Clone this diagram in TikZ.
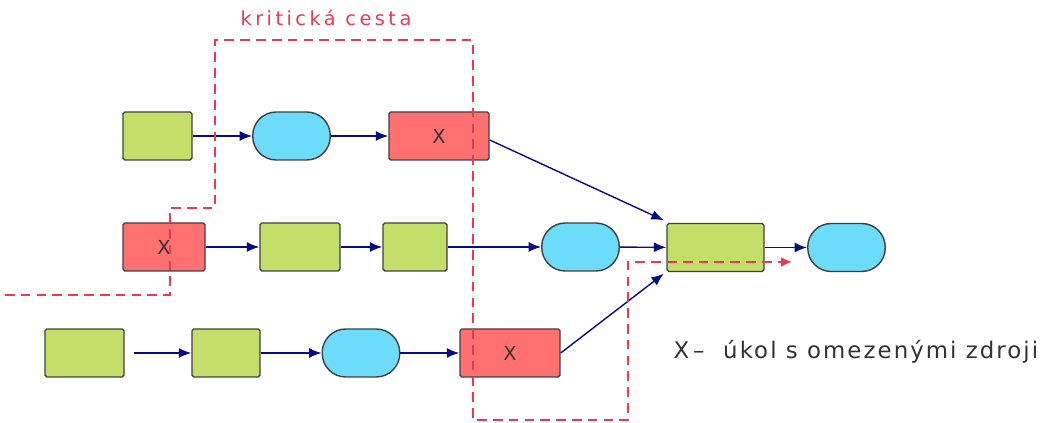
\documentclass[tikz,border=0pt]{standalone}
\usepackage{fontspec}
\setmainfont{DejaVu Sans}
\usetikzlibrary{arrows.meta}
\definecolor{zelena}{RGB}{196,222,106}
\definecolor{modra}{RGB}{108,220,250}
\definecolor{cervena}{RGB}{255,112,112}
\definecolor{carkovana}{RGB}{232,58,80}
\definecolor{tmavomodra}{RGB}{10,10,130}
\tikzset{
	ukol/.style={draw=black!75, line width=0.8pt, fill=zelena, minimum height=0.96cm, inner sep=0pt, rounded corners=1pt},
	omezeny/.style={ukol, fill=cervena, font=\fontsize{11}{11}\selectfont\color{black!80}},
	milnik/.style={draw=black!75, line width=0.8pt, fill=modra, minimum height=0.96cm, minimum width=1.55cm, rounded corners=0.47cm},
	sipka/.style={draw=tmavomodra, line width=0.8pt, -{Latex[length=0.25cm,width=0.2cm]}},
	kriticka/.style={draw=carkovana, line width=1.1pt, dash pattern=on 5.5pt off 3.5pt}
}
\begin{document}
\begin{tikzpicture}
	\useasboundingbox (0,0) rectangle (21,8.46);
	% prvni radek
	\node[ukol, minimum width=1.38cm] (g1) at (3.15,5.74) {};
	\node[milnik] (c1) at (5.83,5.74) {};
	\node[omezeny, minimum width=2cm] (x1) at (8.78,5.74) {X};
	% druhy radek
	\node[omezeny, minimum width=1.64cm] (x2) at (3.28,3.52) {X};
	\node[ukol, minimum width=1.6cm] (g2) at (6.0,3.52) {};
	\node[ukol, minimum width=1.28cm] (g3) at (8.3,3.52) {};
	\node[milnik] (c2) at (11.61,3.52) {};
	\node[ukol, minimum width=1.94cm] (g4) at (14.31,3.51) {};
	\node[milnik] (c3) at (16.93,3.51) {};
	% treti radek
	\node[ukol, minimum width=1.58cm] (g5) at (1.69,1.40) {};
	\node[ukol, minimum width=1.36cm] (g6) at (4.52,1.40) {};
	\node[milnik] (c4) at (7.22,1.40) {};
	\node[omezeny, minimum width=2cm] (x3) at (10.2,1.40) {X};
	% vazby
	\draw[sipka] (g1) -- (c1);
	\draw[sipka] (c1) -- (x1);
	\draw[sipka] (x1.east) ++(0,-0.08) -- ([xshift=-0.05cm,yshift=0.05cm]g4.north west);
	\draw[sipka] (x2) -- (g2);
	\draw[sipka] (g2) -- (g3);
	\draw[sipka] (g3) -- (c2);
	\draw[sipka] (c2) -- (g4);
	\draw[sipka] (g4) -- (c3);
	\draw[sipka, shorten <=0.18cm] (g5) -- (g6);
	\draw[sipka] (g6) -- (c4);
	\draw[sipka] (c4) -- (x3);
	\draw[sipka] (x3.east) -- ([xshift=-0.05cm,yshift=-0.03cm]g4.south west);
	% kriticka cesta
	\draw[kriticka, -{Latex[length=0.22cm,width=0.2cm]}] (0.1,2.56) -- (3.4,2.56) -- (3.4,4.3) -- (4.3,4.3) -- (4.3,7.66)
		-- (9.46,7.66) -- (9.46,0.06) -- (12.56,0.06) -- (12.56,3.22) -- (15.84,3.22);
	\node[text=carkovana, font=\fontsize{11}{11}\selectfont\addfontfeatures{LetterSpace=18}] (kc) at (6.52,8.1) {kritická cesta};
	\node[anchor=west, text=black!80, font=\fontsize{13}{13}\selectfont\addfontfeatures{LetterSpace=9}] (legenda) at (13.35,1.42) {X\,--\ \ úkol s omezenými zdroji};
\end{tikzpicture}
\end{document}
